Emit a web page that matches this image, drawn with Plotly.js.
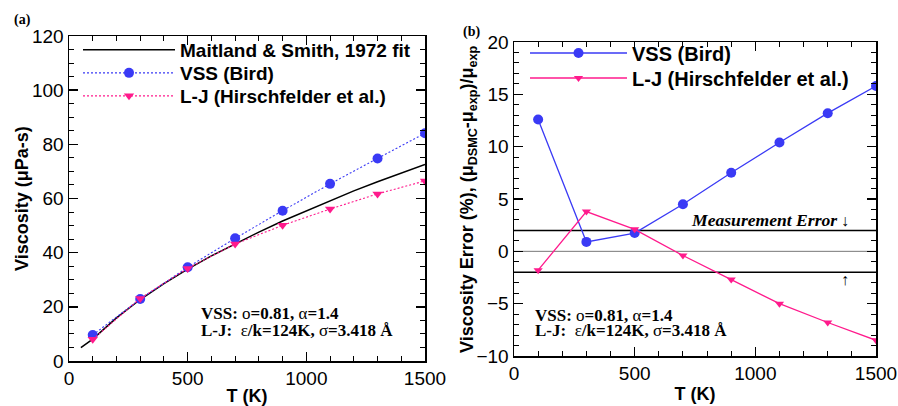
<!DOCTYPE html>
<html>
<head>
<meta charset="utf-8">
<script src="https://cdn.plot.ly/plotly-3.0.1.min.js"></script>
<style>html,body{margin:0;padding:0;background:#fff;}#chart{width:898px;height:406px;}</style>
</head>
<body>
<div id="chart"></div>
<script>
// ---- data ----
var temps = [100, 300, 500, 700, 900, 1100, 1300, 1500];
var vssViscosity = [9.6, 22.9, 34.6, 45.3, 55.5, 65.4, 74.8, 84.1];
var ljViscosity = [8.0, 23.1, 34.2, 43.2, 50.1, 56.1, 61.7, 66.5];
var fitTemps = [50, 100, 200, 300, 400, 500, 600, 700, 800, 900, 1000, 1100, 1200, 1300, 1400, 1500];
var fitViscosity = [4.9, 8.1, 15.9, 22.7, 28.6, 33.9, 38.8, 43.3, 47.6, 51.7, 55.5, 59.2, 62.8, 66.2, 69.5, 72.6];
var vssError = [12.6, 0.9, 1.75, 4.5, 7.5, 10.4, 13.2, 15.8];
var ljError = [-1.8, 3.8, 2.1, -0.4, -2.7, -5.0, -6.8, -8.5];
var errorBandT = [0, 1500];
var errorBandLevels = [2, 0, -2];
var xTicks = [0, 500, 1000, 1500];

var BLUE = '#3a3af5';
var PINK = '#ff1a8c';
var SANS = 'Liberation Sans, Arial, Helvetica, sans-serif';
var SERIF = 'Liberation Serif, Times New Roman, serif';
var W = 898, H = 406;

var traces = [
  {x: fitTemps, y: fitViscosity, type: 'scatter', mode: 'lines', name: 'Maitland & Smith, 1972 fit',
   line: {color: '#000', width: 1.5}, xaxis: 'x', yaxis: 'y', legend: 'legend'},
  {x: temps, y: vssViscosity, type: 'scatter', mode: 'lines+markers', name: 'VSS (Bird)',
   line: {color: BLUE, width: 1.1, dash: '2px,2px'}, marker: {symbol: 'circle', size: 10, color: BLUE},
   xaxis: 'x', yaxis: 'y', legend: 'legend3'},
  {x: temps, y: ljViscosity, type: 'scatter', mode: 'lines+markers', name: 'L-J (Hirschfelder et al.)',
   line: {color: PINK, width: 1.1, dash: '2px,2px'}, marker: {symbol: 'triangle-down', size: 9, color: PINK},
   xaxis: 'x', yaxis: 'y', legend: 'legend4'}
];
errorBandLevels.forEach(function (lv) {
  traces.push({x: errorBandT, y: [lv, lv], type: 'scatter', mode: 'lines', showlegend: false,
    line: {color: lv === 0 ? '#777' : '#000', width: lv === 0 ? 1 : 1.5},
    xaxis: 'x2', yaxis: 'y2', hoverinfo: 'skip'});
});
traces.push(
  {x: temps, y: vssError, type: 'scatter', mode: 'lines+markers', name: 'VSS (Bird)',
   line: {color: BLUE, width: 1.3}, marker: {symbol: 'circle', size: 10, color: BLUE},
   xaxis: 'x2', yaxis: 'y2', legend: 'legend2'},
  {x: temps, y: ljError, type: 'scatter', mode: 'lines+markers', name: 'L-J (Hirschfelder et al.)',
   line: {color: PINK, width: 1.3}, marker: {symbol: 'triangle-down', size: 8, color: PINK},
   xaxis: 'x2', yaxis: 'y2', legend: 'legend5'}
);

function axisBase() {
  return {
    showline: true, linecolor: '#000', linewidth: 1.5, mirror: 'ticks',
    ticks: 'inside', ticklen: 9, tickwidth: 1.5, tickcolor: '#000',
    showgrid: false, zeroline: false,
    tickfont: {family: SANS, size: 19, color: '#000'},
    minor: {ticks: 'inside', ticklen: 5, tickwidth: 1, tickcolor: '#000', showgrid: false}
  };
}
var titleFont = {family: SANS, size: 18, color: '#000'};
var xa = Object.assign(axisBase(), {domain: [69 / W, 425 / W], range: [0, 1500], tickvals: xTicks, anchor: 'y',
  title: {text: '<b>T (K)</b>', font: titleFont, standoff: 4}});
xa.minor.dtick = 100;
var ya = Object.assign(axisBase(), {domain: [45 / H, 370 / H], range: [0, 120], dtick: 20, anchor: 'x'});
ya.minor.dtick = 5;
var xb = Object.assign(axisBase(), {domain: [514 / W, 876 / W], range: [0, 1500], tickvals: xTicks, anchor: 'y2',
  title: {text: '<b>T (K)</b>', font: titleFont, standoff: 4}});
xb.minor.dtick = 100;
var yb = Object.assign(axisBase(), {domain: [50 / H, 364 / H], range: [-10, 20], dtick: 5, anchor: 'x2'});
yb.minor.dtick = 1;

function legendAt(left, yc, size, iw) {
  return {x: left / W, y: 1 - yc / H, xanchor: 'left', yanchor: 'middle', bgcolor: 'rgba(0,0,0,0)',
    font: {family: SANS, size: size, color: '#000', weight: 'bold'}, itemwidth: iw};
}

var annFont = {family: SERIF, size: 17, color: '#000'};
var vssText = '<b>VSS: </b>ο<b>=0.81, </b>α<b>=1.4</b>';
var ljText = '<b>L-J:  </b>ε<b>/k=124K, </b>σ<b>=3.418 Å</b>';
var layout = {
  width: W, height: H,
  margin: {l: 0, r: 0, t: 0, b: 0},
  paper_bgcolor: '#fff', plot_bgcolor: '#fff',
  xaxis: xa, yaxis: ya, xaxis2: xb, yaxis2: yb,
  legend: legendAt(78, 50, 19, 92),
  legend3: legendAt(78, 73, 19, 92),
  legend4: legendAt(78, 96, 19, 92),
  legend2: legendAt(525, 53, 20, 97),
  legend5: legendAt(525, 78, 20, 97),
  annotations: [
    {xref: 'paper', yref: 'paper', x: 22 / W, y: 1 - 199 / H, xanchor: 'center', yanchor: 'middle', showarrow: false,
     textangle: -90, text: '<b>Viscosity (μPa-s)</b>', font: titleFont},
    {xref: 'paper', yref: 'paper', x: 468 / W, y: 1 - 199 / H, xanchor: 'center', yanchor: 'middle', showarrow: false,
     textangle: -90, text: '<b>Viscosity Error (%), (μ<sub>DSMC</sub>-μ<sub>exp</sub>)/μ<sub>exp</sub></b>', font: titleFont},
    {xref: 'paper', yref: 'paper', x: 12 / W, y: 1 - 20 / H, xanchor: 'left', yanchor: 'middle', showarrow: false,
     text: '<b>(a)</b>', font: {family: SERIF, size: 14, color: '#000'}},
    {xref: 'paper', yref: 'paper', x: 461 / W, y: 1 - 32 / H, xanchor: 'left', yanchor: 'middle', showarrow: false,
     text: '<b>(b)</b>', font: {family: SERIF, size: 14, color: '#000'}},
    {xref: 'x', yref: 'y', x: 548, y: 17.7, xanchor: 'left', yanchor: 'middle', showarrow: false,
     text: vssText, font: annFont},
    {xref: 'x', yref: 'y', x: 548, y: 11.4, xanchor: 'left', yanchor: 'middle', showarrow: false,
     text: ljText, font: annFont},
    {xref: 'x2', yref: 'y2', x: 79, y: -6.15, xanchor: 'left', yanchor: 'middle', showarrow: false,
     text: vssText, font: annFont},
    {xref: 'x2', yref: 'y2', x: 79, y: -7.6, xanchor: 'left', yanchor: 'middle', showarrow: false,
     text: ljText, font: annFont},
    {xref: 'x2', yref: 'y2', x: 1346, y: 3.0, xanchor: 'right', yanchor: 'middle', showarrow: false,
     text: '<b><i>Measurement Error</i></b>', font: {family: SERIF, size: 17.6, color: '#000'}},
    {xref: 'x2', yref: 'y2', x: 1372, y: 2.9, xanchor: 'center', yanchor: 'middle', showarrow: false,
     text: '↓', font: {family: SERIF, size: 16, color: '#000'}},
    {xref: 'x2', yref: 'y2', x: 1372, y: -2.7, xanchor: 'center', yanchor: 'middle', showarrow: false,
     text: '↑', font: {family: SERIF, size: 16, color: '#000'}}
  ]
};
Plotly.newPlot('chart', traces, layout, {staticPlot: true, displayModeBar: false});
</script>
</body>
</html>
